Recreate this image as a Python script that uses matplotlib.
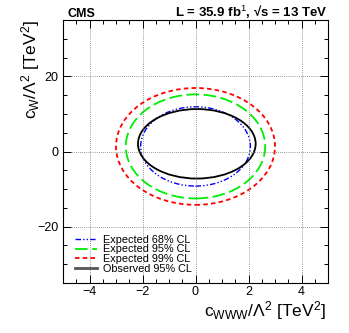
import matplotlib
matplotlib.use("Agg")
import matplotlib.pyplot as plt
from matplotlib.patches import Ellipse
from matplotlib.lines import Line2D
from matplotlib.ticker import MultipleLocator

plt.rcParams['font.family'] = ['Liberation Sans', 'DejaVu Sans']
plt.rcParams['mathtext.fontset'] = 'custom'
plt.rcParams['mathtext.rm'] = 'Liberation Sans'
plt.rcParams['mathtext.it'] = 'Liberation Sans'
plt.rcParams['mathtext.bf'] = 'Liberation Sans:bold'

# contour ellipses: centre and half-axes
labels = ["Expected 68% CL", "Expected 95% CL", "Expected 99% CL", "Observed 95% CL"]
center_x = [0.0, 0.0, 0.0, 0.05]
center_y = [1.35, 1.35, 1.35, 2.05]
half_w = [2.07, 2.63, 3.0, 2.22]
half_h = [10.55, 13.85, 15.55, 9.25]

colors = ["#0000ff", "#00ee00", "#ff0000", "black"]
dashes = [(4, 1.5, 1, 1.5, 1, 1.5), (7, 2.5), (2.5, 1.8), None]
widths = [1.0, 1.3, 1.3, 1.3]

fig = plt.figure(figsize=(3.49, 3.33), dpi=100)
ax = fig.add_axes([63 / 349, 50 / 333, 265 / 349, 263 / 333])

handles = []
for i in range(len(labels)):
    e = Ellipse((center_x[i], center_y[i]), 2 * half_w[i], 2 * half_h[i],
                fill=False, edgecolor=colors[i], lw=widths[i])
    if dashes[i] is not None:
        e.set_linestyle((0, dashes[i]))
    ax.add_patch(e)
    if dashes[i] is not None:
        h = Line2D([], [], color=colors[i], lw=widths[i], linestyle=(0, dashes[i]))
    else:
        h = Line2D([], [], color='#555555', lw=2.0)
    handles.append(h)

ax.set_xlim(-5, 5)
ax.set_ylim(-35, 35)
ax.xaxis.set_major_locator(MultipleLocator(2))
ax.xaxis.set_minor_locator(MultipleLocator(0.5))
ax.yaxis.set_major_locator(MultipleLocator(20))
ax.yaxis.set_minor_locator(MultipleLocator(5))
ax.tick_params(which='both', direction='in', top=True, right=True, labelsize=9)
ax.tick_params(axis='x', pad=2)
ax.tick_params(which='major', length=6, width=0.7)
ax.tick_params(which='minor', length=3, width=0.7)
ax.grid(True, which='major', linestyle=(0, (1, 1.5)), color='#777777', lw=0.6)
for s in ax.spines.values():
    s.set_linewidth(0.8)

ax.legend(handles, labels, loc='lower left', bbox_to_anchor=(0.045, 0.035),
          frameon=False, fontsize=7.8, handlelength=2.05, handletextpad=0.5,
          labelspacing=-0.03, borderpad=0, borderaxespad=0)

fig.text(68 / 349, 1 - 16.7 / 333, "CMS", fontsize=9, fontweight='bold',
         ha='left', va='baseline')
fig.text(328 / 349, 1 - 16.7 / 333, "L = 35.9 fb$^{1}$, \u221as = 13 TeV",
         fontsize=9.5, fontweight='bold', ha='right', va='baseline')
fig.text(326 / 349, 1 - 316 / 333, r"c$_{\rm WWW}$/$\Lambda^{2}$ [TeV$^{2}$]",
         fontsize=12.5, ha='right', va='baseline')
fig.text(31 / 349, 1 - 20 / 333, r"c$_{\rm W}$/$\Lambda^{2}$ [TeV$^{2}$]",
         fontsize=12.5, ha='center', va='top', rotation=90)

fig.savefig("out.png", dpi=100)
